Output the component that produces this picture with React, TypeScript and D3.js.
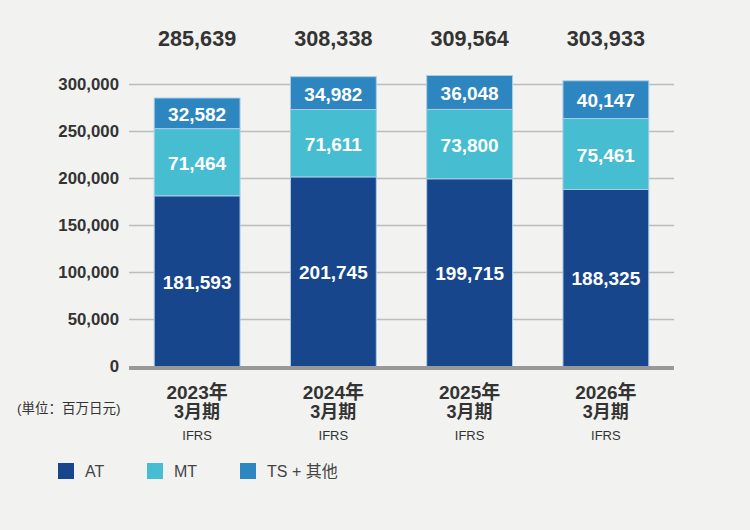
import React from "react";
import * as d3 from "d3";

const categories = ["2023年", "2024年", "2025年", "2026年"];
const subLabels = ["3月期", "3月期", "3月期", "3月期"];
const standards = ["IFRS", "IFRS", "IFRS", "IFRS"];
const seriesNames = ["AT", "MT", "TS + 其他"];
const atValues = [181593, 201745, 199715, 188325];
const mtValues = [71464, 71611, 73800, 75461];
const tsValues = [32582, 34982, 36048, 40147];
const totals = [285639, 308338, 309564, 303933];
const yTicks = [0, 50000, 100000, 150000, 200000, 250000, 300000];
const colors = ["#17468c", "#47bdd1", "#2d86c0"];
const unitLabel = "(単位：百万日元)";

const W = 750;
const H = 530;
const FONT = "'Liberation Sans', Arial, 'Noto Sans CJK SC', sans-serif";

export default function App() {
  const x = d3
    .scaleBand<string>()
    .domain(categories)
    .range([129, 674])
    .paddingInner(0.37)
    .paddingOuter(0.185);
  const y = d3.scaleLinear().domain([0, 300000]).range([366.5, 84.5]);
  const fmt = d3.format(",");

  const rows = categories.map((c, i) => ({
    cat: c,
    AT: atValues[i],
    MT: mtValues[i],
    TS: tsValues[i],
  }));
  const stack = d3.stack<any>().keys(["AT", "MT", "TS"])(rows);
  const [x0, x1] = x.range();

  return (
    <svg
      width={W}
      height={H}
      style={{ position: "absolute", left: 0, top: 0, fontFamily: FONT }}
    >
      <rect x={0} y={0} width={W} height={H} fill="#f2f2f0" />
      {yTicks.map((t) => (
        <g key={t}>
          {t > 0 && (
            <line x1={x0} x2={x1} y1={y(t)} y2={y(t)} stroke="#bdbdbd" strokeWidth={1.3} />
          )}
          <text
            x={119}
            y={y(t)}
            textAnchor="end"
            dominantBaseline="central"
            fontSize={16.8}
            fontWeight="bold"
            fill="#333"
          >
            {fmt(t)}
          </text>
        </g>
      ))}
      {stack.map((layer, si) =>
        layer.map((d, i) => {
          const yTop = y(d[1]);
          const yBot = y(d[0]);
          const v = d[1] - d[0];
          return (
            <g key={`${si}-${i}`}>
              <rect
                x={x(categories[i])!}
                y={yTop}
                width={x.bandwidth()}
                height={yBot - yTop}
                fill={colors[si]}
                stroke="#a9cde6"
                strokeWidth={1}
              />
              <text
                x={x(categories[i])! + x.bandwidth() / 2}
                y={(yTop + yBot) / 2 + 1}
                textAnchor="middle"
                dominantBaseline="central"
                fill="#fff"
                fontWeight="bold"
                fontSize={19}
              >
                {fmt(v)}
              </text>
            </g>
          );
        })
      )}
      <line x1={x0} x2={x1} y1={368} y2={368} stroke="#999" strokeWidth={4} />
      {categories.map((c, i) => {
        const cx = x(c)! + x.bandwidth() / 2;
        return (
          <g key={c}>
            <text x={cx} y={38} textAnchor="middle" dominantBaseline="central" fontSize={21.6} fontWeight="bold" fill="#333">
              {fmt(totals[i])}
            </text>
            <text x={cx} y={392} textAnchor="middle" dominantBaseline="central" fontSize={19} fontWeight="bold" fill="#333">
              {c}
            </text>
            <text x={cx} y={412} textAnchor="middle" dominantBaseline="central" fontSize={18} fontWeight="bold" fill="#333">
              {subLabels[i]}
            </text>
            <text x={cx} y={435} textAnchor="middle" dominantBaseline="central" fontSize={13} fill="#333">
              {standards[i]}
            </text>
          </g>
        );
      })}
      <text x={17} y={408} dominantBaseline="central" fontSize={13.5} fill="#333">
        {unitLabel}
      </text>
      {seriesNames.map((n, i) => {
        const lx = [58, 147, 240][i];
        return (
          <g key={n}>
            <rect x={lx} y={463} width={16} height={16} fill={colors[i]} />
            <text x={lx + 27} y={471.5} dominantBaseline="central" fontSize={16} fill="#444">
              {n}
            </text>
          </g>
        );
      })}
    </svg>
  );
}
